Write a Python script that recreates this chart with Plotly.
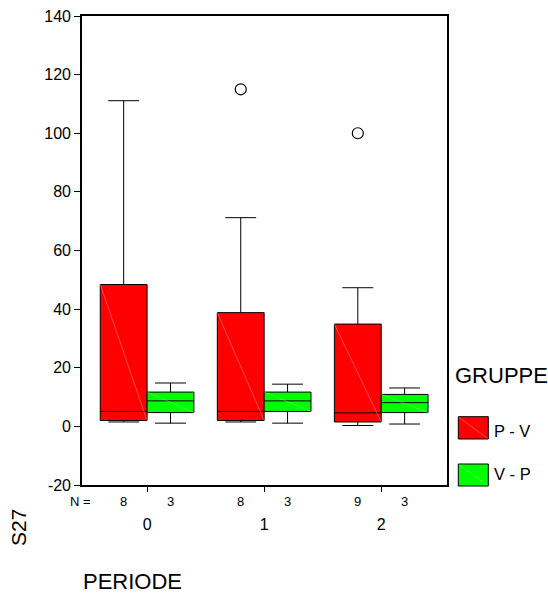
import plotly.graph_objects as go

# ---- data ----
periods = [0, 1, 2]
period_labels = ["0", "1", "2"]
groups = ["P - V", "V - P"]

n_pv = [8, 8, 9]
n_vp = [3, 3, 3]

pv_lo = [1.5, 1.5, 0.3]
pv_q1 = [2.0, 2.0, 1.5]
pv_med = [5.1, 5.1, 4.6]
pv_q3 = [48.4, 38.8, 34.9]
pv_hi = [111.1, 71.2, 47.3]

vp_lo = [1.1, 1.1, 0.8]
vp_q1 = [4.7, 5.1, 4.7]
vp_med = [8.7, 8.7, 8.1]
vp_q3 = [11.7, 11.7, 10.9]
vp_hi = [14.8, 14.4, 13.1]

pv_outlier_period = [1, 2]
pv_outlier_value = [115, 100]

y_ticks = [-20, 0, 20, 40, 60, 80, 100, 120, 140]
y_ticktext = [str(v) for v in y_ticks]

RED = "#ff0000"
GREEN = "#00ff00"
FONT = "Arial, Liberation Sans, sans-serif"

# group geometry (boxgap 0.2, two boxes side by side)
BOXGAP = 0.2
HALF = (1 - BOXGAP) / 4          # box half-width == centre offset
offsets = [-HALF, HALF]

fig = go.Figure()
fig.add_trace(go.Box(
    x=periods, q1=pv_q1, median=pv_med, q3=pv_q3,
    lowerfence=pv_lo, upperfence=pv_hi, name=groups[0],
    fillcolor=RED, line=dict(color="black", width=1),
    whiskerwidth=0.66, boxpoints=False, showlegend=False,
))
fig.add_trace(go.Box(
    x=periods, q1=vp_q1, median=vp_med, q3=vp_q3,
    lowerfence=vp_lo, upperfence=vp_hi, name=groups[1],
    fillcolor=GREEN, line=dict(color="black", width=1),
    whiskerwidth=0.66, boxpoints=False, showlegend=False,
))
fig.add_trace(go.Scatter(
    x=[p + offsets[0] for p in pv_outlier_period], y=pv_outlier_value,
    mode="markers", showlegend=False,
    marker=dict(symbol="circle-open", size=11, color="black",
                line=dict(width=1.2, color="black")),
))

shapes = []
# faint diagonal lines inside boxes (SPSS artefact)
for q1s, q3s, off in [(pv_q1, pv_q3, offsets[0]), (vp_q1, vp_q3, offsets[1])]:
    for p, a, b in zip(periods, q1s, q3s):
        shapes.append(dict(type="line", xref="x", yref="y",
                           x0=p + off - HALF, x1=p + off + HALF, y0=b, y1=a,
                           line=dict(color="rgba(255,255,255,0.3)", width=1),
                           layer="above"))

W, H = 548, 593
L, R, T, B = 82, 101, 16, 108
pw, ph = W - L - R, H - T - B

def px(x):  # window pixel -> paper
    return (x - L) / pw

def py(y):
    return (H - B - y) / ph

# custom legend squares
for (y0, y1), col in [((416.7, 439.0), RED), ((464.0, 486.0), GREEN)]:
    shapes.append(dict(type="rect", xref="paper", yref="paper",
                       x0=px(458.3), x1=px(488.3), y0=py(y1), y1=py(y0),
                       fillcolor=col, line=dict(color="black", width=1)))
    shapes.append(dict(type="line", xref="paper", yref="paper",
                       x0=px(459), x1=px(487.6), y0=py(y0 + 0.7), y1=py(y1 - 0.7),
                       line=dict(color="rgba(255,255,255,0.3)", width=1)))

annotations = []
for p, a, b in zip(periods, n_pv, n_vp):
    for off, n in [(offsets[0], a), (offsets[1], b)]:
        annotations.append(dict(x=p + off, xref="x", y=0, yref="paper",
                                yshift=-16, yanchor="middle", showarrow=False,
                                text=str(n), font=dict(size=13, family=FONT, color="black")))
annotations.append(dict(x=px(80.5), xref="paper", y=0, yref="paper", yshift=-16,
                        yanchor="middle", xanchor="center", showarrow=False,
                        text="N =", font=dict(size=13, family=FONT, color="black")))
annotations.append(dict(x=px(18), xref="paper", y=py(528), yref="paper",
                        textangle=-90, showarrow=False, xanchor="center", yanchor="middle",
                        text="S27", font=dict(size=21, family=FONT, color="black")))
annotations.append(dict(x=px(81), xref="paper", y=py(581.5), yref="paper",
                        xanchor="left", yanchor="middle", showarrow=False,
                        text="PERIODE", font=dict(size=22, family=FONT, color="black")))
annotations.append(dict(x=px(453), xref="paper", y=py(375.5), yref="paper",
                        xanchor="left", yanchor="middle", showarrow=False,
                        text="GRUPPE", font=dict(size=22, family=FONT, color="black")))
for yc, g in [(430.5, groups[0]), (474, groups[1])]:
    annotations.append(dict(x=px(492), xref="paper", y=py(yc), yref="paper",
                            xanchor="left", yanchor="middle", showarrow=False,
                            text=g, font=dict(size=16.5, family=FONT, color="black")))

fig.update_layout(
    width=W, height=H,
    margin=dict(l=L, r=R, t=T, b=B, pad=0, autoexpand=False),
    paper_bgcolor="white", plot_bgcolor="white",
    boxmode="group", boxgap=BOXGAP, boxgroupgap=0,
    shapes=shapes, annotations=annotations,
    font=dict(family=FONT, color="black"),
    showlegend=False,
)
fig.update_xaxes(
    range=[-0.556, 2.562], tickmode="array", tickvals=periods, ticktext=period_labels,
    ticks="outside", ticklen=5, tickcolor="black", tickwidth=1.2,
    showgrid=False, zeroline=False,
    showline=True, linecolor="black", linewidth=1.6, mirror=True, automargin=False,
    tickfont=dict(size=16, family=FONT, color="black"), ticklabelstandoff=19,
    ticklabeloverflow="allow",
)
fig.update_yaxes(
    range=[-20, 140], tickmode="array", tickvals=y_ticks, ticktext=y_ticktext,
    ticks="outside", ticklen=6, tickcolor="black", tickwidth=1.2,
    showgrid=False, zeroline=False,
    showline=True, linecolor="black", linewidth=1.6, mirror=True, automargin=False,
    tickfont=dict(size=16, family=FONT, color="black"), ticklabeloverflow="allow",
)

fig.write_html("out.html", config={"displayModeBar": False},
               post_script="document.body.style.margin='0';document.body.style.overflow='hidden';")
